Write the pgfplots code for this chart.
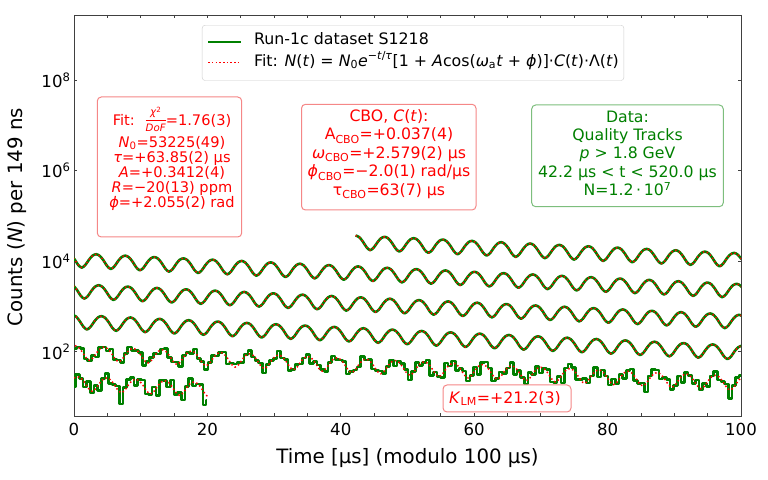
\documentclass[border=0pt]{standalone}
\usepackage{fontspec}
\setmainfont{DejaVu Sans}
\usepackage{pgfplots}
\usepackage{pgfplotstable}
\pgfplotsset{compat=1.18}
\definecolor{dgreen}{RGB}{0,128,0}
\definecolor{fred}{RGB}{255,0,0}
\definecolor{redge}{RGB}{245,135,135}
\definecolor{gedge}{RGB}{125,190,125}
\tikzset{
  dataline/.style={draw=dgreen, color=dgreen, line width=2.6bp, line join=round},
  fitline/.style={draw=fred, color=fred, line width=1.5bp, dash pattern=on 1.5bp off 2.5bp},
}
\newcommand{\fracbox}{\raisebox{1.6bp}{\setlength{\arrayrulewidth}{0.9bp}\begin{tabular}{@{}c@{}}\fontsize{10.2bp}{10bp}\selectfont\textit{χ}\textsuperscript{2}\\\hline\fontsize{10.2bp}{10bp}\selectfont\textit{DoF}\end{tabular}}}

% Row 1: t = 42.2 ... 100 us
\pgfplotstableread[row sep=\\]{
x f\\
42.22 36800\\ 42.77 33800\\ 43.31 27000\\ 43.86 20300\\ 44.40 17500\\ 44.95 20000\\ 45.50 26100\\ 46.04 32100\\
46.59 34400\\ 47.13 31600\\ 47.68 25200\\ 48.22 19000\\ 48.77 16300\\ 49.31 18700\\ 49.86 24400\\ 50.41 30000\\
50.95 32100\\ 51.50 29500\\ 52.04 23600\\ 52.59 17700\\ 53.13 15300\\ 53.68 17400\\ 54.23 22800\\ 54.77 28000\\
55.32 30000\\ 55.86 27500\\ 56.41 22000\\ 56.95 16600\\ 57.50 14200\\ 58.04 16300\\ 58.59 21300\\ 59.14 26200\\
59.68 28000\\ 60.23 25700\\ 60.77 20500\\ 61.32 15500\\ 61.86 13300\\ 62.41 15200\\ 62.96 19900\\ 63.50 24400\\
64.05 26200\\ 64.59 24000\\ 65.14 19200\\ 65.68 14400\\ 66.23 12400\\ 66.77 14200\\ 67.32 18500\\ 67.87 22800\\
68.41 24500\\ 68.96 22400\\ 69.50 17900\\ 70.05 13500\\ 70.59 11600\\ 71.14 13300\\ 71.69 17300\\ 72.23 21300\\
72.78 22800\\ 73.32 21000\\ 73.87 16700\\ 74.41 12600\\ 74.96 10800\\ 75.50 12400\\ 76.05 16200\\ 76.60 19900\\
77.14 21300\\ 77.69 19600\\ 78.23 15600\\ 78.78 11800\\ 79.32 10100\\ 79.87 11600\\ 80.42 15100\\ 80.96 18600\\
81.51 19900\\ 82.05 18300\\ 82.60 14600\\ 83.14 11000\\ 83.69 9460\\ 84.23 10800\\ 84.78 14100\\ 85.32 17400\\
85.87 18600\\ 86.42 17100\\ 86.96 13600\\ 87.51 10300\\ 88.05 8830\\ 88.60 10100\\ 89.14 13200\\ 89.69 16200\\
90.24 17400\\ 90.78 15900\\ 91.33 12700\\ 91.87 9580\\ 92.42 8250\\ 92.96 9420\\ 93.51 12300\\ 94.05 15100\\
94.60 16200\\ 95.15 14900\\ 95.69 11900\\ 96.24 8950\\ 96.78 7700\\ 97.33 8800\\ 97.87 11500\\ 98.42 14100\\
98.97 15200\\ 99.51 13900\\ 100.06 11100\\
}\rowA

% Row 2: t = 100 ... 200 us
\pgfplotstableread[row sep=\\]{
x f\\
-0.49 13900\\ 0.06 11100\\ 0.60 8360\\ 1.15 7190\\ 1.69 8210\\ 2.24 10700\\ 2.78 13200\\
3.33 14200\\ 3.88 13000\\ 4.42 10400\\ 4.97 7800\\ 5.51 6720\\ 6.06 7670\\ 6.60 10000\\ 7.15 12300\\
7.70 13200\\ 8.24 12100\\ 8.79 9690\\ 9.33 7290\\ 9.88 6270\\ 10.42 7160\\ 10.97 9360\\ 11.51 11500\\
12.06 12300\\ 12.61 11300\\ 13.15 9050\\ 13.70 6810\\ 14.24 5860\\ 14.79 6690\\ 15.33 8740\\ 15.88 10800\\
16.43 11500\\ 16.97 10600\\ 17.52 8450\\ 18.06 6360\\ 18.61 5470\\ 19.15 6250\\ 19.70 8170\\ 20.24 10000\\
20.79 10800\\ 21.34 9880\\ 21.88 7890\\ 22.43 5940\\ 22.97 5110\\ 23.52 5840\\ 24.06 7630\\ 24.61 9390\\
25.16 10100\\ 25.70 9230\\ 26.25 7370\\ 26.79 5540\\ 27.34 4770\\ 27.88 5450\\ 28.43 7120\\ 28.97 8770\\
29.52 9390\\ 30.07 8620\\ 30.61 6880\\ 31.16 5180\\ 31.70 4460\\ 32.25 5090\\ 32.79 6650\\ 33.34 8190\\
33.88 8770\\ 34.43 8050\\ 34.98 6430\\ 35.52 4840\\ 36.07 4160\\ 36.61 4750\\ 37.16 6210\\ 37.70 7640\\
38.25 8190\\ 38.80 7510\\ 39.34 6000\\ 39.89 4520\\ 40.43 3890\\ 40.98 4440\\ 41.52 5800\\ 42.07 7140\\
42.61 7650\\ 43.16 7020\\ 43.71 5610\\ 44.25 4220\\ 44.80 3630\\ 45.34 4150\\ 45.89 5420\\ 46.43 6670\\
46.98 7140\\ 47.53 6550\\ 48.07 5240\\ 48.62 3940\\ 49.16 3390\\ 49.71 3870\\ 50.25 5060\\ 50.80 6230\\
51.34 6670\\ 51.89 6120\\ 52.44 4890\\ 52.98 3680\\ 53.53 3170\\ 54.07 3620\\ 54.62 4730\\ 55.16 5820\\
55.71 6230\\ 56.26 5720\\ 56.80 4570\\ 57.35 3440\\ 57.89 2960\\ 58.44 3380\\ 58.98 4410\\ 59.53 5430\\
60.07 5820\\ 60.62 5340\\ 61.17 4260\\ 61.71 3210\\ 62.26 2760\\ 62.80 3150\\ 63.35 4120\\ 63.89 5070\\
64.44 5430\\ 64.99 4990\\ 65.53 3980\\ 66.08 3000\\ 66.62 2580\\ 67.17 2950\\ 67.71 3850\\ 68.26 4740\\
68.80 5080\\ 69.35 4660\\ 69.90 3720\\ 70.44 2800\\ 70.99 2410\\ 71.53 2750\\ 72.08 3590\\ 72.62 4420\\
73.17 4740\\ 73.71 4350\\ 74.26 3470\\ 74.81 2610\\ 75.35 2250\\ 75.90 2570\\ 76.44 3360\\ 76.99 4130\\
77.53 4430\\ 78.08 4060\\ 78.62 3250\\ 79.17 2440\\ 79.72 2100\\ 80.26 2400\\ 80.81 3140\\ 81.35 3860\\
81.90 4130\\ 82.44 3790\\ 82.99 3030\\ 83.54 2280\\ 84.08 1960\\ 84.63 2240\\ 85.17 2930\\ 85.72 3600\\
86.26 3860\\ 86.81 3540\\ 87.35 2830\\ 87.90 2130\\ 88.45 1830\\ 88.99 2090\\ 89.54 2740\\ 90.08 3370\\
90.63 3610\\ 91.17 3310\\ 91.72 2640\\ 92.27 1990\\ 92.81 1710\\ 93.36 1950\\ 93.90 2550\\ 94.45 3140\\
94.99 3370\\ 95.54 3090\\ 96.08 2470\\ 96.63 1860\\ 97.18 1600\\ 97.72 1830\\ 98.27 2390\\ 98.81 2940\\
99.36 3150\\ 99.90 2890\\ 100.45 2310\\
}\rowB

% Row 3: t = 200 ... 300 us
\pgfplotstableread[row sep=\\]{
x f\\
-0.10 2890\\ 0.45 2310\\ 0.99 1730\\ 1.54 1490\\ 2.09 1700\\ 2.63 2230\\ 3.18 2740\\
3.72 2940\\ 4.27 2700\\ 4.81 2150\\ 5.36 1620\\ 5.91 1390\\ 6.45 1590\\ 7.00 2080\\ 7.54 2560\\
8.09 2740\\ 8.63 2520\\ 9.18 2010\\ 9.73 1510\\ 10.27 1300\\ 10.82 1490\\ 11.36 1940\\ 11.91 2390\\
12.45 2560\\ 13.00 2350\\ 13.54 1880\\ 14.09 1410\\ 14.64 1220\\ 15.18 1390\\ 15.73 1810\\ 16.27 2230\\
16.82 2390\\ 17.36 2200\\ 17.91 1750\\ 18.45 1320\\ 19.00 1140\\ 19.55 1300\\ 20.09 1690\\ 20.64 2090\\
21.18 2230\\ 21.73 2050\\ 22.27 1640\\ 22.82 1230\\ 23.36 1060\\ 23.91 1210\\ 24.46 1580\\ 25.00 1950\\
25.55 2090\\ 26.09 1910\\ 26.64 1530\\ 27.18 1150\\ 27.73 991\\ 28.28 1130\\ 28.82 1480\\ 29.37 1820\\
29.91 1950\\ 30.46 1790\\ 31.00 1430\\ 31.55 1070\\ 32.09 925\\ 32.64 1060\\ 33.19 1380\\ 33.73 1700\\
34.28 1820\\ 34.82 1670\\ 35.37 1330\\ 35.91 1000\\ 36.46 864\\ 37.01 987\\ 37.55 1290\\ 38.10 1590\\
38.64 1700\\ 39.19 1560\\ 39.73 1250\\ 40.28 937\\ 40.82 807\\ 41.37 922\\ 41.92 1200\\ 42.46 1480\\
43.01 1590\\ 43.55 1460\\ 44.10 1160\\ 44.64 875\\ 45.19 754\\ 45.74 861\\ 46.28 1120\\ 46.83 1380\\
47.37 1480\\ 47.92 1360\\ 48.46 1090\\ 49.01 818\\ 49.55 704\\ 50.10 804\\ 50.65 1050\\ 51.19 1290\\
51.74 1380\\ 52.28 1270\\ 52.83 1020\\ 53.37 764\\ 53.92 657\\ 54.47 751\\ 55.01 981\\ 55.56 1210\\
56.10 1290\\ 56.65 1190\\ 57.19 948\\ 57.74 713\\ 58.28 614\\ 58.83 701\\ 59.38 916\\ 59.92 1130\\
60.47 1210\\ 61.01 1110\\ 61.56 885\\ 62.10 666\\ 62.65 573\\ 63.19 655\\ 63.74 856\\ 64.29 1050\\
64.83 1130\\ 65.38 1040\\ 65.92 827\\ 66.47 622\\ 67.01 536\\ 67.56 612\\ 68.11 799\\ 68.65 983\\
69.20 1050\\ 69.74 967\\ 70.29 772\\ 70.83 581\\ 71.38 500\\ 71.92 571\\ 72.47 746\\ 73.02 918\\
73.56 984\\ 74.11 903\\ 74.65 721\\ 75.20 543\\ 75.74 467\\ 76.29 533\\ 76.84 697\\ 77.38 858\\
77.93 919\\ 78.47 843\\ 79.02 674\\ 79.56 507\\ 80.11 436\\ 80.65 498\\ 81.20 651\\ 81.75 801\\
82.29 858\\ 82.84 787\\ 83.38 629\\ 83.93 473\\ 84.47 407\\ 85.02 465\\ 85.57 608\\ 86.11 748\\
86.66 801\\ 87.20 735\\ 87.75 587\\ 88.29 442\\ 88.84 380\\ 89.38 434\\ 89.93 568\\ 90.48 699\\
91.02 748\\ 91.57 687\\ 92.11 549\\ 92.66 413\\ 93.20 355\\ 93.75 406\\ 94.30 530\\ 94.84 652\\
95.39 699\\ 95.93 641\\ 96.48 512\\ 97.02 385\\ 97.57 332\\ 98.11 379\\ 98.66 495\\ 99.21 609\\
99.75 653\\ 100.30 599\\
}\rowC

% Row 4: t = 300 ... 400 us
\pgfplotstableread[row sep=\\]{
x f\\
-0.25 653\\ 0.30 599\\ 0.84 479\\ 1.39 360\\ 1.93 310\\ 2.48 354\\ 3.03 462\\ 3.57 569\\
4.12 610\\ 4.66 560\\ 5.21 447\\ 5.75 336\\ 6.30 289\\ 6.84 331\\ 7.39 432\\ 7.93 532\\
8.48 570\\ 9.03 523\\ 9.57 417\\ 10.12 314\\ 10.66 270\\ 11.21 309\\ 11.75 403\\ 12.30 496\\
12.85 532\\ 13.39 488\\ 13.94 390\\ 14.48 293\\ 15.03 252\\ 15.57 288\\ 16.12 377\\ 16.66 464\\
17.21 497\\ 17.76 456\\ 18.30 364\\ 18.85 274\\ 19.39 236\\ 19.94 269\\ 20.48 352\\ 21.03 433\\
21.58 464\\ 22.12 426\\ 22.67 340\\ 23.21 256\\ 23.76 220\\ 24.30 251\\ 24.85 329\\ 25.39 404\\
25.94 433\\ 26.49 398\\ 27.03 318\\ 27.58 239\\ 28.12 206\\ 28.67 235\\ 29.21 307\\ 29.76 378\\
30.31 405\\ 30.85 371\\ 31.40 297\\ 31.94 223\\ 32.49 192\\ 33.03 219\\ 33.58 287\\ 34.12 353\\
34.67 378\\ 35.22 347\\ 35.76 277\\ 36.31 208\\ 36.85 179\\ 37.40 205\\ 37.94 268\\ 38.49 330\\
39.04 353\\ 39.58 324\\ 40.13 259\\ 40.67 195\\ 41.22 168\\ 41.76 191\\ 42.31 250\\ 42.85 308\\
43.40 330\\ 43.95 303\\ 44.49 242\\ 45.04 182\\ 45.58 157\\ 46.13 179\\ 46.67 234\\ 47.22 287\\
47.76 308\\ 48.31 282\\ 48.86 226\\ 49.40 170\\ 49.95 146\\ 50.49 167\\ 51.04 218\\ 51.58 268\\
52.13 287\\ 52.68 264\\ 53.22 211\\ 53.77 158\\ 54.31 136\\ 54.86 156\\ 55.40 204\\ 55.95 251\\
56.49 268\\ 57.04 246\\ 57.59 197\\ 58.13 148\\ 58.68 127\\ 59.22 145\\ 59.77 190\\ 60.31 234\\
60.86 251\\ 61.41 230\\ 61.95 184\\ 62.50 138\\ 63.04 119\\ 63.59 136\\ 64.13 178\\ 64.68 219\\
65.22 234\\ 65.77 215\\ 66.32 172\\ 66.86 129\\ 67.41 111\\ 67.95 127\\ 68.50 166\\ 69.04 204\\
69.59 219\\ 70.14 201\\ 70.68 160\\ 71.23 121\\ 71.77 104\\ 72.32 119\\ 72.86 155\\ 73.41 191\\
73.95 204\\ 74.50 187\\ 75.05 150\\ 75.59 113\\ 76.14 97.0\\ 76.68 111\\ 77.23 145\\ 77.77 178\\
78.32 191\\ 78.87 175\\ 79.41 140\\ 79.96 105\\ 80.50 90.5\\ 81.05 103\\ 81.59 135\\ 82.14 166\\
82.68 178\\ 83.23 163\\ 83.78 131\\ 84.32 98.2\\ 84.87 84.6\\ 85.41 96.5\\ 85.96 126\\ 86.50 155\\
87.05 166\\ 87.59 153\\ 88.14 122\\ 88.69 91.7\\ 89.23 79.0\\ 89.78 90.1\\ 90.32 118\\ 90.87 145\\
91.41 155\\ 91.96 143\\ 92.50 114\\ 93.05 85.6\\ 93.60 73.7\\ 94.14 84.2\\ 94.69 110\\ 95.23 135\\
95.78 145\\ 96.32 133\\ 96.87 106\\ 97.42 80.0\\ 97.96 68.9\\ 98.51 78.6\\ 99.05 103\\ 99.60 126\\
100.14 136\\
}\rowD

% Row 5: t = 400 ... 500 us (f = fit, d = data)
\pgfplotstableread[row sep=\\]{
x f d\\
-0.40 126 138\\ 0.14 136 116\\ 0.69 124 128\\ 1.23 99.3 117\\ 1.78 74.7 69.3\\ 2.33 64.3 62.8\\ 2.87 73.4 83.1\\ 3.42 96.0 76.4\\ 3.96 118 125\\
4.51 127 127\\ 5.05 116 103\\ 5.60 92.7 114\\ 6.15 69.8 66.4\\ 6.69 60.1 65.1\\ 7.24 68.6 57.1\\ 7.78 89.6 91.8\\ 8.33 110 126\\
8.87 118 107\\ 9.42 108 107\\ 9.96 86.6 96.0\\ 10.51 65.2 49.6\\ 11.06 56.1 60.1\\ 11.60 64.0 74.8\\ 12.15 83.7 91.7\\ 12.69 103 88.2\\
13.24 110 114\\ 13.78 101 119\\ 14.33 80.9 75.1\\ 14.88 60.8 59.3\\ 15.42 52.4 59.3\\ 15.97 59.8 47.6\\ 16.51 78.2 82.9\\ 17.06 96.2 96.2\\
17.60 103 91.9\\ 18.15 94.6 116\\ 18.69 75.5 71.9\\ 19.24 56.8 61.6\\ 19.79 48.9 40.7\\ 20.33 55.9 57.2\\ 20.88 73.0 83.5\\ 21.42 89.8 81.2\\
21.97 96.2 95.0\\ 22.51 88.3 97.8\\ 23.06 70.5 53.6\\ 23.61 53.1 56.9\\ 24.15 45.7 53.4\\ 24.70 52.2 57.2\\ 25.24 68.2 58.4\\ 25.79 83.9 86.9\\
26.33 89.9 106\\ 26.88 82.5 76.6\\ 27.42 65.9 64.3\\ 27.97 49.6 56.1\\ 28.52 42.7 34.0\\ 29.06 48.7 51.6\\ 29.61 63.7 63.7\\ 30.15 78.4 69.9\\
30.70 83.9 103\\ 31.24 77.0 73.3\\ 31.79 61.5 66.7\\ 32.34 46.3 38.5\\ 32.88 39.9 40.9\\ 33.43 45.5 52.1\\ 33.97 59.5 53.8\\ 34.52 73.2 72.3\\
35.06 78.4 86.9\\ 35.61 72.0 54.7\\ 36.15 57.5 61.6\\ 36.70 43.2 50.5\\ 37.24 37.2 40.8\\ 37.79 42.5 36.4\\ 38.34 55.5 57.5\\ 38.88 68.4 80.7\\
39.43 73.2 67.9\\ 39.97 67.2 65.6\\ 40.52 53.7 60.8\\ 41.06 40.4 32.2\\ 41.61 34.8 36.9\\ 42.16 39.7 39.7\\ 42.70 51.9 46.3\\ 43.25 63.9 78.5\\
43.79 68.4 65.1\\ 44.34 62.8 68.1\\ 44.88 50.1 41.7\\ 45.43 37.7 38.6\\ 45.97 32.5 37.2\\ 46.52 37.1 33.5\\ 47.07 48.5 47.9\\ 47.61 59.6 66.0\\
48.16 63.9 48.6\\ 48.70 58.6 62.8\\ 49.25 46.8 54.7\\ 49.79 35.2 40.3\\ 50.34 30.3 23.8\\ 50.89 34.6 36.5\\ 51.43 45.2 57.4\\ 51.98 55.7 49.7\\
52.52 59.7 57.6\\ 53.07 54.7 65.5\\ 53.61 43.7 30.3\\ 54.16 32.9 35.9\\ 54.70 28.3 28.3\\ 55.25 32.3 27.1\\ 55.80 42.3 56.8\\ 56.34 52.0 48.3\\
56.89 55.7 62.7\\ 57.43 51.1 38.2\\ 57.98 40.8 42.3\\ 58.52 30.7 37.3\\ 59.07 26.4 22.6\\ 59.62 30.2 29.7\\ 60.16 39.5 45.9\\ 60.71 48.6 31.1\\
61.25 52.0 57.6\\ 61.80 47.8 59.8\\ 62.34 38.1 43.6\\ 62.89 28.7 22.5\\ 63.43 24.7 26.0\\ 63.98 28.2 35.8\\ 64.53 36.9 32.9\\ 65.07 45.4 43.8\\
65.62 48.6 58.2\\ 66.16 44.6 31.0\\ 66.71 35.6 38.8\\ 67.25 26.8 26.8\\ 67.80 23.1 19.4\\ 68.35 26.3 35.3\\ 68.89 34.4 31.9\\ 69.44 42.4 47.7\\
69.98 45.4 34.0\\ 70.53 41.7 43.2\\ 71.07 33.3 40.5\\ 71.62 25.0 21.4\\ 72.16 21.6 21.2\\ 72.71 24.6 28.6\\ 73.26 32.2 20.6\\ 73.80 39.6 43.9\\
74.35 42.4 53.1\\ 74.89 38.9 44.5\\ 75.44 31.1 24.4\\ 75.98 23.4 24.7\\ 76.53 20.1 25.5\\ 77.08 23.0 20.5\\ 77.62 30.0 28.9\\ 78.17 37.0 44.3\\
78.71 39.6 27.5\\ 79.26 36.3 39.6\\ 79.80 29.0 29.0\\ 80.35 21.8 18.3\\ 80.89 18.8 25.2\\ 81.44 21.5 20.0\\ 81.99 28.0 31.5\\ 82.53 34.5 25.8\\
83.08 37.0 38.3\\ 83.62 33.9 41.2\\ 84.17 27.1 23.2\\ 84.71 20.4 20.0\\ 85.26 17.6 20.5\\ 85.80 20.0 12.8\\ 86.35 26.2 29.0\\ 86.90 32.2 40.3\\
87.44 34.5 39.5\\ 87.99 31.7 24.9\\ 88.53 25.3 26.7\\ 89.08 19.0 24.1\\ 89.62 16.4 14.6\\ 90.17 18.7 18.0\\ 90.72 24.5 29.4\\ 91.26 30.1 20.9\\
91.81 32.3 35.2\\ 92.35 29.6 29.6\\ 92.90 23.6 19.8\\ 93.44 17.8 23.9\\ 93.99 15.3 14.2\\ 94.53 17.5 19.7\\ 95.08 22.8 17.1\\ 95.63 28.1 29.1\\
96.17 30.1 36.6\\ 96.72 27.6 23.6\\ 97.26 22.1 21.7\\ 97.81 16.6 19.3\\ 98.35 14.3 9.2\\ 98.90 16.3 18.1\\ 99.45 21.3 26.7\\ 99.99 26.3 30.1\\
100.54 28.1 22.0\\
}\rowE

% Row 6: t = 500 ... 520 us
\pgfplotstableread[row sep=\\]{
x f d\\
-0.01 26.3 16.5\\ 0.54 28.1 31.2\\ 1.08 25.8 25.8\\ 1.63 20.6 16.5\\ 2.17 15.5 22.0\\ 2.72 13.4 12.2\\ 3.26 15.3 17.7\\ 3.81 19.9 13.8\\ 4.36 24.5 25.6\\
4.90 26.3 33.2\\ 5.45 24.1 19.9\\ 5.99 19.3 18.9\\ 6.54 14.5 17.4\\ 7.08 12.5 7.0\\ 7.63 14.2 16.1\\ 8.18 18.6 24.3\\ 8.72 22.9 26.9\\
9.27 24.5 18.0\\ 9.81 22.5 24.0\\ 10.36 18.0 23.9\\ 10.90 13.5 11.7\\ 11.45 11.7 11.2\\ 11.99 13.3 16.5\\ 12.54 17.4 10.9\\ 13.09 21.4 23.8\\
13.63 22.9 22.9\\ 14.18 21.0 16.8\\ 14.72 16.8 23.8\\ 15.27 12.6 11.5\\ 15.81 10.9 12.6\\ 16.36 12.4 8.6\\ 16.91 16.2 16.9\\ 17.45 20.0 25.3\\
18.00 21.4 17.6\\ 18.54 19.6 19.2\\ 19.09 15.7 18.8\\ 19.63 11.8 6.6\\ 20.00 10.4 8.5\\
}\rowF

\begin{document}
\begin{tikzpicture}
\useasboundingbox (0,0) rectangle (768bp,480bp);
\begin{axis}[
  at={(74bp,64bp)}, anchor=south west,
  width=667bp, height=401bp, scale only axis,
  xmin=0, xmax=100, ymode=log, ymin=3.81, ymax=2.72e9,
  xtick={0,20,40,60,80,100}, xticklabels={0,20,40,60,80,100},
  minor x tick num=3,
  ytick={1e2,1e4,1e6,1e8},
  yticklabels={10\textsuperscript{2},10\textsuperscript{4},10\textsuperscript{6},10\textsuperscript{8}},
  yminorticks=false,
  tick align=inside,
  major tick length=3.5bp, minor tick length=3.5bp,
  tick style={black!75, line width=0.9bp},
  axis line style={black!75, line width=0.9bp},
  tick label style={font=\fontsize{16.6bp}{19bp}\selectfont, black},
  xticklabel style={yshift=-3.5bp},
  legend cell align=left,
  legend image code/.code={\draw[#1] (0bp,0bp) -- (33bp,0bp);},
  legend style={at={(axis description cs:0.1919,0.975)}, anchor=north west,
    draw=black!20, rounded corners=3bp, fill=white,
    font=\fontsize{15.8bp}{18bp}\selectfont,
    inner xsep=5bp, inner ysep=7.5bp, row sep=0bp, column sep=11.7bp,
    nodes={inner sep=0pt, text depth=7bp}, cells={anchor=west}},
]
\addlegendimage{draw=dgreen, line width=2.2bp}
\addlegendentry{Run-1c dataset S1218}
\addlegendimage{draw=red, line width=1.5bp, dash pattern=on 1.5bp off 2.2bp}
\addlegendentry{Fit: \textit{N}(\textit{t}) = \textit{N}\textsubscript{0}\textit{e}\textsuperscript{\textit{−t}/\textit{τ}}[1 + \textit{A}cos(\textit{ω}\textsubscript{a}\textit{t} + \textit{ϕ})]·\textit{C}(\textit{t})·Λ(\textit{t})}
\addplot[dataline, smooth, forget plot] table[x=x,y=f]{\rowA};
\addplot[fitline, smooth, forget plot] table[x=x,y=f]{\rowA};
\addplot[dataline, smooth, forget plot] table[x=x,y=f]{\rowB};
\addplot[fitline, smooth, forget plot] table[x=x,y=f]{\rowB};
\addplot[dataline, smooth, forget plot] table[x=x,y=f]{\rowC};
\addplot[fitline, smooth, forget plot] table[x=x,y=f]{\rowC};
\addplot[dataline, smooth, forget plot] table[x=x,y=f]{\rowD};
\addplot[fitline, smooth, forget plot] table[x=x,y=f]{\rowD};
\addplot[dataline, const plot mark mid, forget plot] table[x=x,y=d]{\rowE};
\addplot[fitline, smooth, forget plot] table[x=x,y=f]{\rowE};
\addplot[dataline, const plot mark mid, forget plot] table[x=x,y=d]{\rowF};
\addplot[fitline, smooth, forget plot] table[x=x,y=f]{\rowF};
\end{axis}

% axis labels
\node[anchor=base, font=\fontsize{19.8bp}{22bp}\selectfont] at (407.5bp,16.7bp) {Time [µs] (modulo 100 µs)};
\node[anchor=base, rotate=90, font=\fontsize{19.8bp}{22bp}\selectfont] at (22bp,263bp) {Counts (\textit{N}) per 149 ns};

% Fit box
\draw[redge, line width=1bp, rounded corners=4bp, fill=white] (97.3bp,243bp) rectangle (241.7bp,383bp);
\begin{scope}[every node/.style={anchor=base, text=fred, font=\fontsize{14.6bp}{15bp}\selectfont, inner sep=0pt}]
\node at (172bp,354bp) {Fit:\hspace{0.75em}\fracbox=1.76(3)};
\node at (172bp,332.7bp) {\textit{N}\textsubscript{0}=53225(49)};
\node at (172bp,317.7bp) {\textit{τ}=+63.85(2) µs};
\node at (172bp,302.7bp) {\textit{A}=+0.3412(4)};
\node at (172bp,287.7bp) {\textit{R}=−20(13) ppm};
\node at (172bp,272.7bp) {\textit{ϕ}=+2.055(2) rad};
\end{scope}

% CBO box
\draw[redge, line width=1bp, rounded corners=4bp, fill=white] (301.5bp,270bp) rectangle (476bp,375.7bp);
\begin{scope}[every node/.style={anchor=base, text=fred, font=\fontsize{15.7bp}{18bp}\selectfont, inner sep=0pt}]
\node at (389bp,358.5bp) {CBO, \textit{C}(\textit{t}):};
\node at (389bp,340bp) {A\textsubscript{CBO}=+0.037(4)};
\node at (389bp,321.5bp) {\textit{ω}\textsubscript{CBO}=+2.579(2) µs};
\node at (389bp,303bp) {\textit{ϕ}\textsubscript{CBO}=−2.0(1) rad/µs};
\node at (389bp,284.5bp) {τ\textsubscript{CBO}=63(7) µs};
\end{scope}

% Data box
\draw[gedge, line width=1bp, rounded corners=4bp, fill=white] (531.7bp,273.3bp) rectangle (723.3bp,375bp);
\begin{scope}[every node/.style={anchor=base, text=dgreen, font=\fontsize{15.7bp}{18bp}\selectfont, inner sep=0pt}]
\node at (627.5bp,357.7bp) {Data:};
\node at (627.5bp,339.3bp) {Quality Tracks};
\node at (627.5bp,321bp) {\textit{p} > 1.8 GeV};
\node at (627.5bp,302.7bp) {42.2 µs < t < 520.0 µs};
\node at (627.5bp,284.5bp) {N=1.2\,·\,10\textsuperscript{7}};
\end{scope}

% K_LM box
\draw[redge, line width=1bp, rounded corners=4bp, fill=white] (443bp,68bp) rectangle (571bp,95bp);
\node[anchor=base, text=fred, font=\fontsize{15.8bp}{18bp}\selectfont, inner sep=0pt] at (505bp,76.7bp) {\textit{K}\textsubscript{LM}=+21.2(3)};
\end{tikzpicture}
\end{document}
